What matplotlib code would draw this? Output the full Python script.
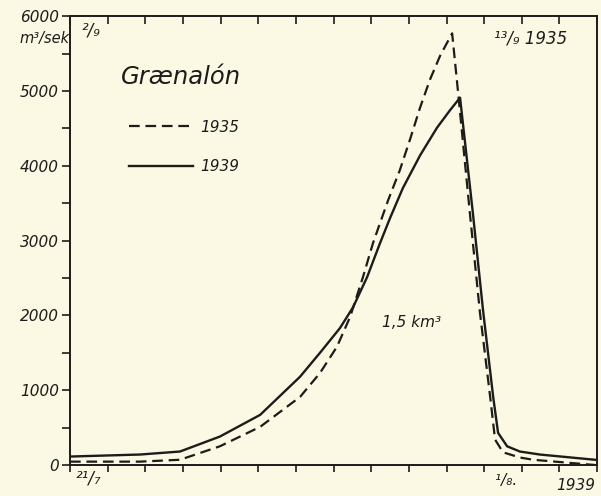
import matplotlib
matplotlib.use('Agg')
import matplotlib.pyplot as plt
import numpy as np

# days after 21/7 (1939) resp. 2/9 (1935), discharge in m3/sek
days_1939 = [0, 1.86, 2.92, 3.98, 5.05, 6.11, 6.64, 7.17, 7.52, 7.89, 8.23, 8.50, 8.84,
             9.30, 9.75, 10.09, 10.36, 10.70, 10.97, 11.24, 11.37, 11.61, 11.95, 12.48, 13.94]
q_1939 = [113, 140, 180, 380, 670, 1180, 1500, 1830, 2110, 2510, 2960, 3300, 3700,
          4140, 4510, 4740, 4910, 3370, 2070, 910, 430, 250, 180, 140, 70]

days_1935 = [0, 1.86, 2.92, 3.98, 5.05, 6.11, 6.64, 7.09, 7.44, 7.78, 8.05, 8.45, 8.76,
             9.03, 9.30, 9.56, 9.83, 10.15, 10.31, 10.62, 10.89, 11.16, 11.29, 11.50,
             11.95, 12.30, 13.94]
q_1935 = [45, 45, 70, 250, 510, 910, 1230, 1580, 1980, 2510, 2970, 3540, 3940,
          4350, 4780, 5150, 5470, 5770, 4970, 3370, 2030, 910, 340, 170,
          100, 70, 0]

yticks = [0, 1000, 2000, 3000, 4000, 5000, 6000]
ytick_labels = ['0', '1000', '2000', '3000', '4000', '5000', '6000']

bg = '#fbf8e4'
ink = '#1c1c1a'

fig = plt.figure(figsize=(6.01, 4.96), dpi=100, facecolor=bg)
ax = fig.add_axes([0.1165, 0.0625, 0.877, 0.905], facecolor=bg)

ax.plot(days_1935, q_1935, color=ink, lw=1.6, linestyle=(0, (4.8, 2.6)), label='1935',
        solid_joinstyle='round', dash_joinstyle='round')
ax.plot(days_1939, q_1939, color=ink, lw=1.7, label='1939',
        solid_joinstyle='round')

ax.set_xlim(0, 14)
ax.set_ylim(0, 6000)

for s in ax.spines.values():
    s.set_color(ink)
    s.set_linewidth(1.4)

ax.set_yticks(yticks)
ax.set_yticklabels(ytick_labels, fontstyle='italic', fontsize=11, color=ink)
ax.set_yticks(np.arange(500, 6000, 1000), minor=True)
ax.tick_params(axis='y', which='both', direction='out', length=6, width=1.2, color=ink, pad=2)
ax.set_xticks(np.arange(0, 15, 1))
ax.set_xticklabels([])
ax.tick_params(axis='x', direction='out', length=5, width=1.2, color=ink)

top = ax.secondary_xaxis('top')
top.set_xticks(np.arange(0, 15, 1))
top.set_xticklabels([])
top.tick_params(direction='in', length=6, width=1.2, color=ink)
top.spines['top'].set_visible(False)

tstyle = dict(fontstyle='italic', color=ink)
fig.text(0.033, 0.913, 'm³/sek', fontsize=10.5, **tstyle)
fig.text(0.136, 0.928, '²/₉', fontsize=12, **tstyle)
fig.text(0.822, 0.913, '¹³/₉ 1935', fontsize=12, **tstyle)
fig.text(0.125, 0.025, '²¹/₇', fontsize=12, **tstyle)
fig.text(0.823, 0.022, '¹/₈.', fontsize=11, **tstyle)
fig.text(0.925, 0.012, '1939', fontsize=11, **tstyle)
fig.text(0.636, 0.34, '1,5 km³', fontsize=11, **tstyle)
fig.text(0.202, 0.83, 'Grænalón', fontsize=17.5, **tstyle)

leg = ax.legend(loc='upper left', bbox_to_anchor=(0.085, 0.8), frameon=False,
                handlelength=4.2, handletextpad=0.5, labelspacing=1.6,
                prop={'style': 'italic', 'size': 11})
for t in leg.get_texts():
    t.set_color(ink)

fig.savefig('out.png', dpi=100, facecolor=bg)
